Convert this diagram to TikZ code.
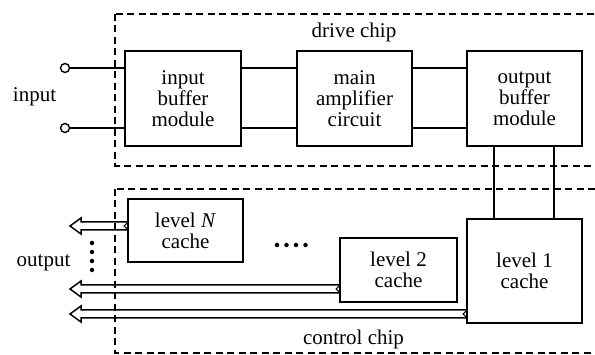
\documentclass[tikz,border=0pt]{standalone}
\usepackage{fontspec}
\setmainfont{Liberation Serif}
\usetikzlibrary{calc}

\tikzset{
  txt/.style={font=\fontsize{21}{21}\selectfont, inner sep=0pt},
  block/.style={draw, line width=1.6pt, align=center, inner sep=0pt,
                font=\fontsize{21}{21}\selectfont},
  wire/.style={line width=1.5pt},
  chip/.style={line width=1.4pt, dash pattern=on 7pt off 4.5pt},
  term/.style={circle, draw, line width=1.4pt, minimum size=9pt, inner sep=0pt, fill=white},
  bus/.style={line width=1.5pt, line join=miter},
  dot/.style={circle, fill, minimum size=4.5pt, inner sep=0pt},
}

% hollow double-line bus arrow from a box edge (#1) to a free tip (#2)
\newcommand\busarrow[2]{%
  \draw[bus] ($(#1)+(0,-4)$) -- ($(#2)+(11,-4)$) -- ($(#2)+(11,-8)$) -- (#2)
    -- ($(#2)+(11,8)$) -- ($(#2)+(11,4)$) -- ($(#1)+(0,4)$);
  \draw[line width=1.1pt] ($(#1)+(0,-3)$) -- ($(#1)+(-3,0)$) -- ($(#1)+(0,3)$);
}

\begin{document}
\begin{tikzpicture}[x=1pt, y=-1pt]
\useasboundingbox (0,0) rectangle (595,355);
\clip (0,0) rectangle (595,355);
\fill[white] (0,0) rectangle (595,355);

% chip outlines
\draw[chip] (115,14) rectangle (605,166);
\draw[chip] (115,189) rectangle (605,353);
\node[txt, anchor=base] (drivelbl) at (354,38) {drive chip};
\node[txt, anchor=base] (ctrllbl) at (353.5,345) {control chip};

% drive chip blocks
\node[block, minimum width=116pt, minimum height=95pt] (inbuf) at (183,98.5) {input\\buffer\\module};
\node[block, minimum width=115pt, minimum height=95pt] (amp) at (354.5,98.5) {main\\amplifier\\circuit};
\node[block, minimum width=115pt, minimum height=95pt] (outbuf) at (524.5,98.5) {output\\buffer\\module};

% control chip blocks
\node[block, minimum width=115pt, minimum height=104pt] (c1) at (524.5,271) {level 1\\cache};
\node[block, minimum width=117pt, minimum height=64pt] (c2) at (398.5,270) {level 2\\cache};
\node[block, minimum width=115pt, minimum height=63pt] (cN) at (185.5,230.5) {level \textit{N}\\cache};

% input terminals
\node[txt, anchor=base] (inlbl) at (34.5,102) {input};
\node[term] (in1) at (65,68) {};
\node[term] (in2) at (65,128) {};
\draw[wire] (in1) -- (inbuf.west |- in1);
\draw[wire] (in2) -- (inbuf.west |- in2);

% links between drive chip blocks
\draw[wire] ([yshift=30.5pt]inbuf.east) -- ([yshift=30.5pt]amp.west);
\draw[wire] ([yshift=-29.5pt]inbuf.east) -- ([yshift=-29.5pt]amp.west);
\draw[wire] ([yshift=30.5pt]amp.east) -- ([yshift=30.5pt]outbuf.west);
\draw[wire] ([yshift=-29.5pt]amp.east) -- ([yshift=-29.5pt]outbuf.west);

% output buffer to level 1 cache
\draw[wire] ([xshift=-30.5pt]outbuf.south) -- ([xshift=-30.5pt]c1.north);
\draw[wire] ([xshift=29.5pt]outbuf.south) -- ([xshift=29.5pt]c1.north);

% output buses
\coordinate (tipN) at (70,226);
\coordinate (tip2) at (70,289);
\coordinate (tip1) at (70,314);
\busarrow{cN.west |- tipN}{tipN}
\busarrow{c2.west |- tip2}{tip2}
\busarrow{c1.west |- tip1}{tip1}

\node[txt, anchor=base] (outlbl) at (43.5,267) {output};

% ellipses
\foreach \y [count=\i] in {243,252,261,270} \node[dot] (v\i) at (92,\y) {};
\foreach \x [count=\i] in {277,286.5,296,305.5} \node[dot] (h\i) at (\x,245) {};
\end{tikzpicture}
\end{document}
